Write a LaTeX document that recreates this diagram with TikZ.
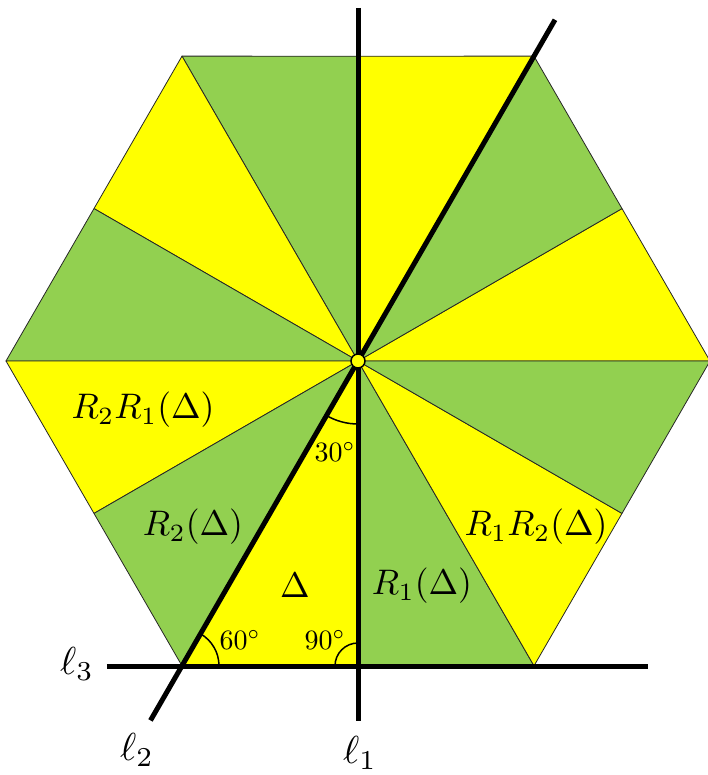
\documentclass[tikz,border=0pt]{standalone}
\definecolor{yel}{RGB}{255,255,0}
\definecolor{grn}{RGB}{146,208,80}
\begin{document}
\begin{tikzpicture}[x=1pt,y=1pt,
  piece/.style={draw=black!85, line width=0.8pt, line join=round},
  ell/.style={line width=5pt},
  ang/.style={line width=1.5pt},
  big/.style={scale=3.55, transform shape, inner sep=0pt},
  lab/.style={scale=3.9, transform shape, inner sep=0pt},
  deg/.style={scale=2.8, transform shape, inner sep=0pt}]
\useasboundingbox (-358,-414) rectangle (350,361);
\def\RR{352}
\def\rr{304.84}
\foreach \k in {0,...,11}{
  \pgfmathtruncatemacro\a{30*\k}
  \pgfmathtruncatemacro\b{30*\k+30}
  \ifodd\k
    \path[fill=grn, piece] (0,0) -- (\a:\rr) -- (\b:\RR) -- cycle;
  \else
    \path[fill=yel, piece] (0,0) -- (\a:\RR) -- (\b:\rr) -- cycle;
  \fi
}
\coordinate (O) at (0,0);
\coordinate (l1t) at (0,353);
\coordinate (l1b) at (0,-360);
\coordinate (l3l) at (-251,-305);
\coordinate (l3r) at (290,-305);
\coordinate (l2t) at (60:394);
\coordinate (l2b) at (240:415);
\coordinate (B) at (240:\RR);
\coordinate (M) at (0,-305);
\draw[ell] (l1t) -- (l1b);
\draw[ell] (l3l) -- (l3r);
\draw[ell] (l2b) -- (l2t);
\draw[ang] (240:63) arc[start angle=240, end angle=270, radius=63];
\draw[ang] ([xshift=37pt]B) arc[start angle=0, end angle=60, radius=37];
\draw[ang] ([yshift=23pt]M) arc[start angle=90, end angle=180, radius=23];
\node[circle, draw=black, fill=yel, line width=1.5pt, minimum size=14pt, inner sep=0pt] (dot) at (O) {};
\node[big] (t1) at (-215,-49) {$R_2R_1(\Delta)$};
\node[big] (t2) at (-165,-166) {$R_2(\Delta)$};
\node[big] (t3) at (178,-166) {$R_1R_2(\Delta)$};
\node[big] (t4) at (64,-225) {$R_1(\Delta)$};
\node[big] (t5) at (-63,-224) {$\Delta$};
\node[deg] (d30) at (-23,-91) {$30^\circ$};
\node[deg] (d60) at (-118,-279) {$60^\circ$};
\node[deg] (d90) at (-33,-279) {$90^\circ$};
\node[lab] (e3) at (-281,-303) {$\ell_3$};
\node[lab] (e2) at (-221,-389) {$\ell_2$};
\node[lab] (e1) at (2,-392) {$\ell_1$};
\end{tikzpicture}
\end{document}
